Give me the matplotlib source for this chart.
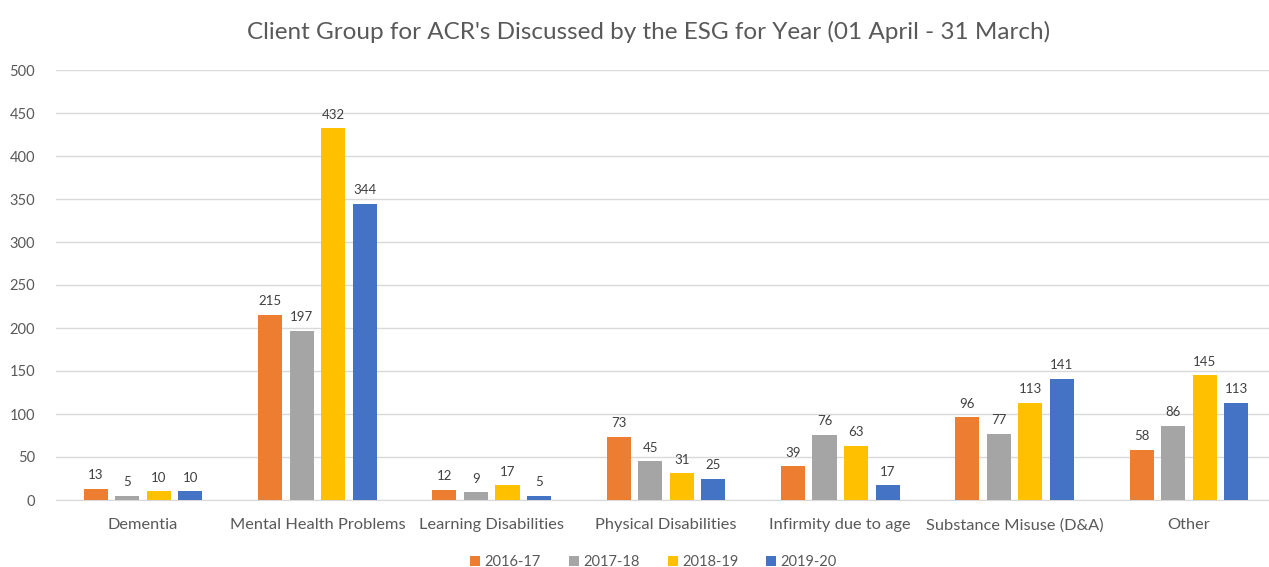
import numpy as np
from matplotlib import pyplot as plt

# Client groups and counts per year
categories = ['Dementia', 'Mental Health Problems', 'Learning Disabilities',
              'Physical Disabilities', 'Infirmity due to age',
              'Substance Misuse (D&A)', 'Other']
years = ['2016-17', '2017-18', '2018-19', '2019-20']
v_2016 = [13, 215, 12, 73, 39, 96, 58]
v_2017 = [5, 197, 9, 45, 76, 77, 86]
v_2018 = [10, 432, 17, 31, 63, 113, 145]
v_2019 = [10, 344, 5, 25, 17, 141, 113]
colors = ['#ED7D31', '#A5A5A5', '#FFC000', '#4472C4']

plt.rcParams['font.family'] = ['Lato', 'DejaVu Sans']
txt = '#595959'

fig = plt.figure(figsize=(12.69, 5.67), dpi=100)
ax = fig.add_axes([56/1269, 67/567, 1220/1269, 430/567])

x = np.arange(len(categories))
width = 0.138
pitch = 0.181
series = [v_2016, v_2017, v_2018, v_2019]
for i, vals in enumerate(series):
	pos = x + (i - 1.5) * pitch
	ax.bar(pos, vals, width, color=colors[i], label=years[i], zorder=3)
	for p, v in zip(pos, vals):
		ax.text(p, v + 9, str(v), ha='center', va='bottom', fontsize=9.5, color='#404040')

ax.set_xlim(-0.5, len(categories) - 0.5)
ax.set_ylim(0, 500)
ax.set_yticks(range(0, 501, 50))
ax.set_xticks(x)
ax.set_xticklabels(categories, fontsize=11.8, color=txt)
ax.tick_params(axis='y', labelsize=10.5, labelcolor=txt, length=0, pad=15)
ax.tick_params(axis='x', length=0, pad=13)
ax.yaxis.grid(True, color='#D9D9D9', linewidth=1, zorder=0)
for s in ['top', 'right', 'left']:
	ax.spines[s].set_visible(False)
ax.spines['bottom'].set_color('#D9D9D9')

fig.text(0.511, 0.943, "Client Group for ACR's Discussed by the ESG for Year (01 April - 31 March)",
	ha='center', va='center', fontsize=17.5, color=txt)
fig.legend(loc='center', bbox_to_anchor=(0.515, 0.008), ncol=4, frameon=False,
	fontsize=10.5, labelcolor=txt, handlelength=0.7, handleheight=0.7,
	handletextpad=0.3, columnspacing=1.9)

plt.savefig('out.png', dpi=100)
